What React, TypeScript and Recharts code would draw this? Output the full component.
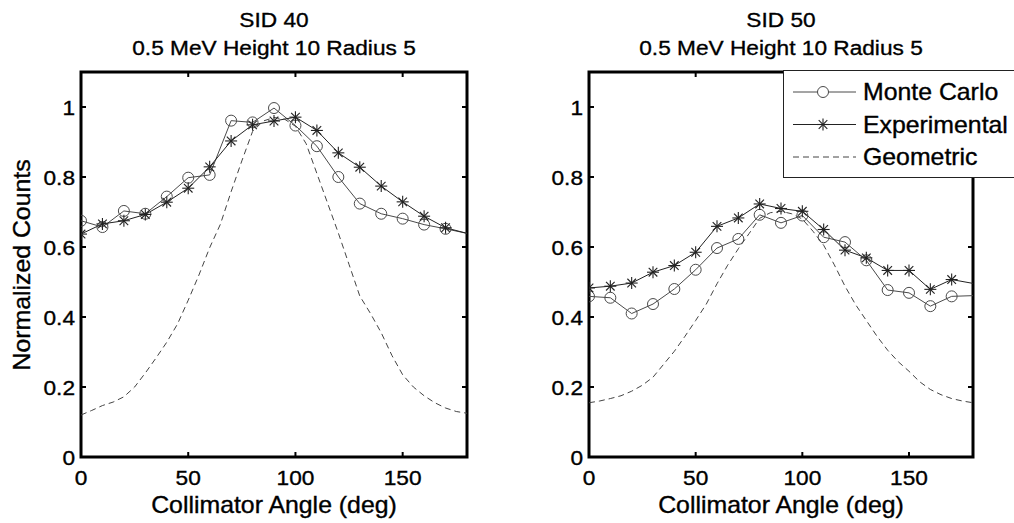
import React from 'react';
import { LineChart, Line, XAxis, YAxis, Legend, ReferenceArea } from 'recharts';

const FONT = '"Liberation Sans", Arial, Helvetica, sans-serif';
const SX = 1.08;
const TEXT_STROKE = 0.35;

const angles = [0, 10, 20, 30, 40, 50, 60, 70, 80, 90, 100, 110, 120, 130, 140, 150, 160, 170, 180];
const geoAngles = [0, 5, 10, 15, 20, 25, 30, 35, 40, 45, 50, 55, 60, 65, 70, 75, 80, 85, 90, 95, 100, 105, 110, 115, 120, 125, 130, 135, 140, 145, 150, 155, 160, 165, 170, 175, 180];

const mc40 = [0.675, 0.657, 0.703, 0.695, 0.744, 0.798, 0.806, 0.961, 0.956, 0.997, 0.947, 0.888, 0.8, 0.724, 0.695, 0.681, 0.664, 0.652, 0.639];
const exp40 = [0.637, 0.666, 0.675, 0.693, 0.728, 0.768, 0.829, 0.903, 0.949, 0.96, 0.971, 0.933, 0.869, 0.828, 0.774, 0.729, 0.688, 0.655, 0.639];
const geo40 = [0.12, 0.133, 0.147, 0.157, 0.172, 0.2, 0.24, 0.283, 0.328, 0.38, 0.448, 0.52, 0.598, 0.665, 0.758, 0.846, 0.93, 0.96, 0.97, 0.965, 0.945, 0.895, 0.81, 0.725, 0.64, 0.55, 0.46, 0.41, 0.355, 0.29, 0.235, 0.2, 0.175, 0.155, 0.14, 0.13, 0.125];

const mc50 = [0.459, 0.455, 0.41, 0.437, 0.48, 0.535, 0.597, 0.623, 0.692, 0.669, 0.69, 0.628, 0.614, 0.562, 0.477, 0.469, 0.431, 0.459, 0.461];
const exp50 = [0.483, 0.488, 0.497, 0.528, 0.547, 0.585, 0.659, 0.683, 0.723, 0.71, 0.702, 0.65, 0.591, 0.569, 0.533, 0.533, 0.479, 0.507, 0.496];
const geo50 = [0.155, 0.16, 0.167, 0.175, 0.188, 0.205, 0.228, 0.265, 0.302, 0.345, 0.39, 0.437, 0.495, 0.548, 0.595, 0.638, 0.682, 0.698, 0.702, 0.695, 0.68, 0.645, 0.605, 0.549, 0.488, 0.435, 0.39, 0.345, 0.305, 0.272, 0.245, 0.215, 0.193, 0.178, 0.167, 0.16, 0.155];

const xTicks = [0, 50, 100, 150];
const yTicks = [0, 0.2, 0.4, 0.6, 0.8, 1];
const xDomain = [0, 180];
const yDomain = [0, 1.1];

const titles40 = ['SID 40', '0.5 MeV Height 10 Radius 5'];
const titles50 = ['SID 50', '0.5 MeV Height 10 Radius 5'];
const xLabel = 'Collimator Angle (deg)';
const yLabel = 'Normalized Counts';
const seriesNames = ['Monte Carlo', 'Experimental', 'Geometric'];

const toPoints = (xs: number[], ys: number[]) => xs.map((x, i) => ({ x, y: ys[i] }));

const LINE_MC = '#4a4a4a';
const LINE_EXP = '#222';
const LINE_GEO = '#444';
const TICK_LEN = 5;

const CircleDot = (props: any) => {
  const { cx, cy, payload, index } = props;
  if (payload && payload.x >= 180) return <g key={`c${index}`} />;
  return <circle key={`c${index}`} cx={cx} cy={cy} r={5.5} fill="none" stroke={LINE_MC} strokeWidth={1} />;
};

const StarShape = ({ cx, cy }: any) => {
  const a = 6;
  const d = 4.3;
  return (
    <g stroke={LINE_EXP} strokeWidth={1.1}>
      <line x1={cx - a} y1={cy} x2={cx + a} y2={cy} />
      <line x1={cx} y1={cy - a} x2={cx} y2={cy + a} />
      <line x1={cx - d} y1={cy - d} x2={cx + d} y2={cy + d} />
      <line x1={cx - d} y1={cy + d} x2={cx + d} y2={cy - d} />
    </g>
  );
};

const StarDot = (props: any) => {
  const { cx, cy, payload, index } = props;
  if (payload && payload.x >= 180) return <g key={`s${index}`} />;
  return <StarShape key={`s${index}`} cx={cx} cy={cy} />;
};

const textStyle = { fontFamily: FONT, fill: '#000', stroke: '#000', strokeWidth: TEXT_STROKE };

// bottom axis: inward tick + label
const XTick = (props: any) => {
  const { x, y, payload } = props;
  return (
    <g>
      <line x1={x} y1={y} x2={x} y2={y - TICK_LEN} stroke="#000" strokeWidth={2} />
      <text transform={`translate(${x},${y + 28}) scale(${SX},1)`} textAnchor="middle" fontSize={21} {...textStyle}>
        {String(payload.value)}
      </text>
    </g>
  );
};

// left axis: inward tick + label
const YTick = (props: any) => {
  const { x, y, payload } = props;
  return (
    <g>
      <line x1={x} y1={y} x2={x + TICK_LEN} y2={y} stroke="#000" strokeWidth={2} />
      <text transform={`translate(${x - 6},${y + 7.5}) scale(${SX},1)`} textAnchor="end" fontSize={21} {...textStyle}>
        {String(payload.value)}
      </text>
    </g>
  );
};

const TopTick = (props: any) => {
  const { x, y } = props;
  return <line x1={x} y1={y} x2={x} y2={y + TICK_LEN} stroke="#000" strokeWidth={2} />;
};

const RightTick = (props: any) => {
  const { x, y } = props;
  return <line x1={x} y1={y} x2={x - TICK_LEN} y2={y} stroke="#000" strokeWidth={2} />;
};

const legendMarker: Record<string, string> = {
  'Monte Carlo': 'circle',
  Experimental: 'star',
  Geometric: 'dash',
};

const renderLegend = (props: any) => {
  const payload = (props.payload || []) as any[];
  const ordered = seriesNames
    .map((n) => payload.find((p) => p.value === n))
    .filter(Boolean);
  return (
    <svg width={240} height={108} style={{ display: 'block' }}>
      <rect x={0.5} y={0.5} width={239} height={107} fill="#fff" stroke="#222" strokeWidth={1} />
      {ordered.map((entry: any, i: number) => {
        const cy = 22 + i * 32.5;
        const kind = legendMarker[entry.value];
        return (
          <g key={entry.value}>
            <line x1={10} y1={cy} x2={73} y2={cy} stroke={entry.color || '#333'} strokeWidth={1} strokeDasharray={kind === 'dash' ? '6 4' : undefined} />
            {kind === 'circle' && <circle cx={40} cy={cy} r={5.5} fill="#fff" stroke={LINE_MC} />}
            {kind === 'star' && <StarShape cx={40} cy={cy} />}
            <text transform={`translate(80,${cy + 8}) scale(${SX},1)`} fontSize={23} {...textStyle}>
              {entry.value}
            </text>
          </g>
        );
      })}
    </svg>
  );
};

function Panel({ left, width, mLeft, mRight, mc, exp, geo, showLegend }: any) {
  return (
    <div style={{ position: 'absolute', left, top: 0 }}>
      <LineChart width={width} height={523} margin={{ top: 71, right: mRight, bottom: 26, left: mLeft }}>
        <XAxis
          dataKey="x"
          type="number"
          domain={xDomain}
          ticks={xTicks}
          allowDataOverflow
          interval={0}
          height={40}
          tickSize={0}
          tickMargin={0}
          axisLine={false}
          tickLine={false}
          tick={<XTick />}
        />
        <XAxis
          xAxisId="top"
          orientation="top"
          dataKey="x"
          type="number"
          domain={xDomain}
          ticks={xTicks}
          allowDataOverflow
          interval={0}
          height={1}
          tickSize={0}
          tickMargin={0}
          axisLine={false}
          tickLine={false}
          tick={<TopTick />}
        />
        <YAxis
          type="number"
          domain={yDomain}
          ticks={yTicks}
          allowDataOverflow
          interval={0}
          width={60}
          tickSize={0}
          tickMargin={0}
          axisLine={false}
          tickLine={false}
          tick={<YTick />}
        />
        <YAxis
          yAxisId="right"
          orientation="right"
          type="number"
          domain={yDomain}
          ticks={yTicks}
          allowDataOverflow
          interval={0}
          width={1}
          tickSize={0}
          tickMargin={0}
          axisLine={false}
          tickLine={false}
          tick={<RightTick />}
        />
        <Line
          xAxisId="top"
          data={toPoints(angles, mc)}
          dataKey="y"
          name={seriesNames[0]}
          stroke={LINE_MC}
          strokeWidth={1}
          dot={CircleDot}
          activeDot={false}
          isAnimationActive={false}
        />
        <Line
          yAxisId="right"
          data={toPoints(angles, exp)}
          dataKey="y"
          name={seriesNames[1]}
          stroke={LINE_EXP}
          strokeWidth={1}
          dot={StarDot}
          activeDot={false}
          isAnimationActive={false}
        />
        <Line
          data={toPoints(geoAngles, geo)}
          dataKey="y"
          name={seriesNames[2]}
          stroke={LINE_GEO}
          strokeWidth={1}
          strokeDasharray="6 4"
          dot={false}
          activeDot={false}
          isAnimationActive={false}
        />
        <ReferenceArea x1={xDomain[0]} x2={xDomain[1]} y1={yDomain[0]} y2={yDomain[1]} fill="none" fillOpacity={0} stroke="#000" strokeWidth={3} ifOverflow="visible" />
        {showLegend && (
          <Legend
            layout="horizontal"
            align="center"
            verticalAlign="middle"
            content={renderLegend}
            wrapperStyle={{ left: 283, top: 70, width: 240, height: 108, right: 'auto', bottom: 'auto' }}
          />
        )}
      </LineChart>
    </div>
  );
}

const SText = ({ x, y, size, children, rotate }: any) => (
  <text
    transform={`translate(${x},${y})${rotate ? ` rotate(${rotate})` : ''} scale(${SX},1)`}
    textAnchor="middle"
    fontSize={size}
    {...textStyle}
  >
    {children}
  </text>
);

export default function App() {
  return (
    <div style={{ position: 'absolute', left: 0, top: 0, width: 1014, height: 523, overflow: 'hidden', background: '#fff' }}>
      <Panel left={0} width={500} mLeft={21} mRight={32} mc={mc40} exp={exp40} geo={geo40} showLegend={false} />
      <Panel left={500} width={514} mLeft={29} mRight={40} mc={mc50} exp={exp50} geo={geo50} showLegend={true} />
      <svg width={1014} height={523} style={{ position: 'absolute', left: 0, top: 0, pointerEvents: 'none' }}>
        <SText x={274} y={27} size={21}>{titles40[0]}</SText>
        <SText x={274} y={55} size={21}>{titles40[1]}</SText>
        <SText x={781} y={27} size={21}>{titles50[0]}</SText>
        <SText x={781} y={55} size={21}>{titles50[1]}</SText>
        <SText x={274} y={513} size={23}>{xLabel}</SText>
        <SText x={781} y={513} size={23}>{xLabel}</SText>
        <SText x={30} y={265} size={23} rotate={-90}>{yLabel}</SText>
      </svg>
    </div>
  );
}
